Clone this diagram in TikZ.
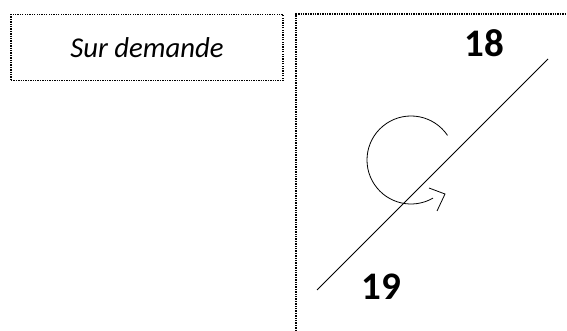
\documentclass[tikz,border=0pt]{standalone}
\usepackage{fontspec}
\setmainfont{Carlito}
\begin{document}
\begin{tikzpicture}[x=1pt,y=1pt,
  dotbox/.style={draw, line width=1.3pt, dash pattern=on 1.3pt off 1.1pt},
  numlabel/.style={font=\fontsize{39}{44}\selectfont\bfseries, inner sep=0pt},
  thin line/.style={line width=0.8pt}]
\useasboundingbox (0,0) rectangle (567,331);
\node[dotbox, minimum width=272pt, minimum height=66pt, inner sep=0pt,
  font=\fontsize{28.7}{32}\selectfont\itshape] (sd) at (147,283.5) {Sur demande\hspace{2pt}};
\coordinate (rb1) at (296,0);
\coordinate (rb2) at (296,317);
\coordinate (rb3) at (567,317);
\draw[dotbox] (rb1) -- (rb2) -- (rb3);
\node[numlabel] (n18) at (484.3,287.7) {18};
\node[numlabel] (n19) at (381,44) {19};
\coordinate (la) at (548,272);
\coordinate (lb) at (317,41);
\draw[thin line] (la) -- (lb);
\coordinate (rc) at (411,171);
\draw[thin line] (rc) ++(34:44) arc[start angle=34, end angle=300, radius=44];
\coordinate (h1) at (429,143);
\coordinate (h2) at (445,137);
\coordinate (h3) at (437,120);
\draw[thin line] (h1) -- (h2) -- (h3);
\end{tikzpicture}
\end{document}
